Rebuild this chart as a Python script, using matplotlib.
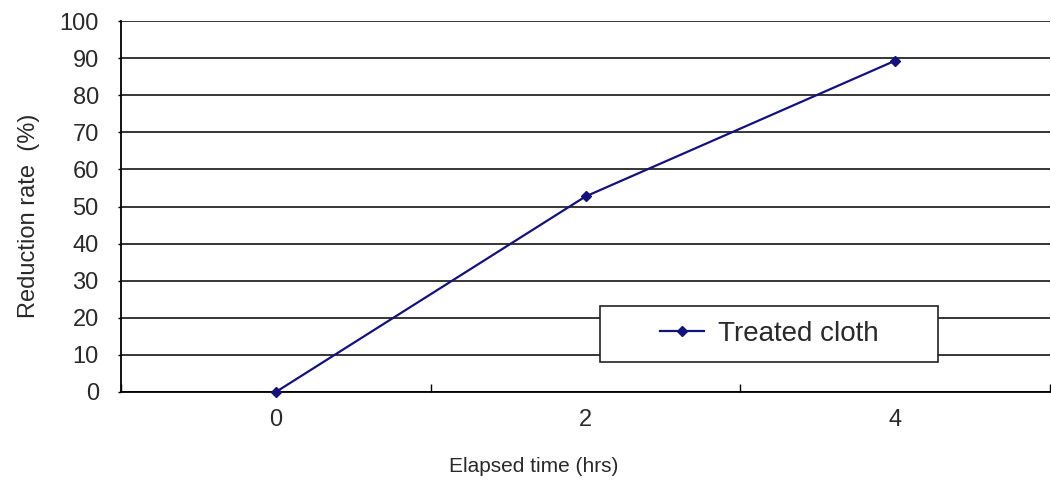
import numpy as np
import matplotlib.pyplot as plt
from matplotlib.patches import Rectangle

# Data
hours = ["0", "2", "4"]
reduction = [0.0, 52.7, 89.3]
yticks = list(range(0, 101, 10))

plt.rcParams['font.family'] = ['Liberation Sans', 'DejaVu Sans']
txt = '#2a2a2a'

fig = plt.figure(figsize=(10.51, 4.84), dpi=100)
ax = fig.add_axes([121/1051, 1 - 392/484, 929/1051, 371/484])

x = np.arange(len(hours))
ax.plot(x, reduction, color='#14137a', lw=1.6, marker='D', ms=5.5,
        mfc='#14137a', mec='#14137a', label='Treated cloth', zorder=3,
        clip_on=False)

ax.set_xlim(-0.5, len(hours) - 0.5)
ax.set_ylim(0, 100)
ax.set_yticks(yticks)
ax.set_xticks(x)
ax.set_xticklabels(hours)
ax.set_xticks(np.arange(len(hours) + 1) - 0.5, minor=True)
ax.tick_params(axis='x', which='major', length=0, pad=12, labelsize=17, labelcolor=txt)
ax.tick_params(axis='x', which='minor', direction='in', length=6, width=1, color='black')
ax.tick_params(axis='y', length=2, width=1, pad=14, labelsize=17, labelcolor=txt)

ax.grid(axis='y', color='black', lw=1.1)
ax.set_axisbelow(True)
for s in ['top', 'right']:
    ax.spines[s].set_visible(False)
ax.spines['left'].set_linewidth(1.3)
ax.spines['bottom'].set_linewidth(1.3)

ax.set_ylabel('Reduction rate  (%)', fontsize=17, color=txt)
ax.yaxis.set_label_coords(-(121 - 29) / 929, (392 - 216) / 371)
ax.set_xlabel('Elapsed time (hrs)', fontsize=15, color=txt)
ax.xaxis.set_label_coords((534 - 121) / 929, -(467 - 392) / 371)
ax.xaxis.label.set_va('center')
ax.yaxis.label.set_va('center')

# legend box
ax.add_patch(Rectangle((479/929, 30/371), 338/929, 56/371, transform=ax.transAxes,
                       facecolor='white', edgecolor='#222222', lw=1.2, zorder=4))
leg = ax.legend(loc='center', bbox_to_anchor=(479/929, 30/371, 338/929, 56/371),
                frameon=False, fontsize=20, handlelength=1.6, handletextpad=0.5,
                labelcolor=txt)
leg.set_zorder(5)

fig.savefig('out.png', dpi=100)
